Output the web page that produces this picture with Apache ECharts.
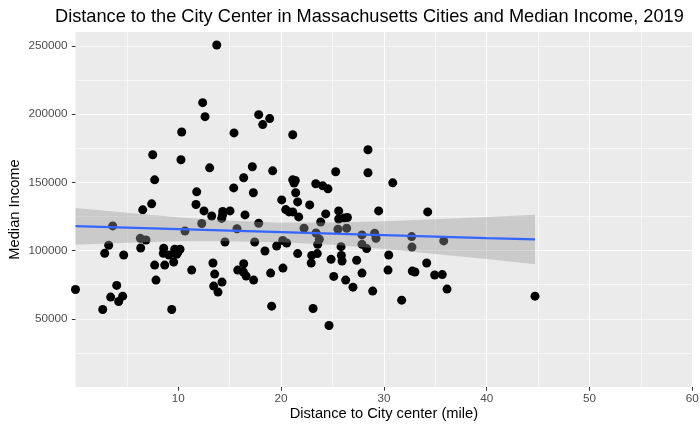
<!DOCTYPE html>
<html><head><meta charset="utf-8">
<script src="https://cdn.jsdelivr.net/npm/echarts@6/dist/echarts.min.js"></script>
<style>html,body{margin:0;padding:0;background:#fff}#c{width:700px;height:432px}</style>
</head><body><div id="c"></div>
<script>
// Distance to city center (miles) and median income per city
const distance = [13.74,12.37,12.6,10.33,15.42,7.51,10.26,13.05,7.7,16.36,11.79,15.39,6.54,7.41,11.72,12.5,13.25,14.22,14.32,14.3,15.03,16.49,12.28,15.71,3.62,0.0,2.65,2.84,3.23,4.01,3.42,4.2,4.59,4.69,6.31,6.86,6.34,7.7,7.83,8.58,8.54,8.68,9.09,9.55,9.36,9.65,9.94,10.17,9.84,10.65,11.3,13.37,13.54,13.44,13.86,14.25,14.54,15.78,16.36,16.33,16.6,17.82,18.89,18.21,21.13,17.2,19.18,17.3,21.13,21.38,21.26,21.42,25.31,28.45,28.45,30.86,23.37,24.05,24.56,20.06,21.61,22.78,20.45,20.77,21.13,21.71,25.6,24.34,25.6,26.12,26.45,23.85,29.49,34.26,17.82,22.23,17.33,17.43,18.43,18.98,19.08,19.57,20.16,20.54,20.18,21.61,23.4,23.72,23.56,23.52,22.98,22.93,23.11,24.66,24.86,25.12,25.53,26.38,25.83,25.86,25.93,26.28,26.99,27.35,27.87,27.87,28.32,27.87,28.91,29.1,29.23,30.47,30.4,31.73,32.7,32.73,32.76,33.02,34.16,34.94,35.68,35.82,36.14,44.7];
const income = [250800,208500,198200,187000,186300,170300,166600,160700,151900,153400,143100,146000,129900,134300,133800,129100,125400,123600,128700,126000,129100,126200,119900,116000,118100,71500,56800,98000,103900,74500,65900,62700,66600,96800,109000,107800,101900,89400,78400,101700,98000,89400,96800,91600,56800,101000,98500,101000,97300,114400,85700,90900,82800,74000,69600,76900,106300,85700,90400,84300,81300,199700,196800,192400,185000,161500,158500,142400,151900,151500,149500,142400,157800,174000,157100,149700,149000,147500,145300,137200,135700,133500,130100,128400,128400,124700,129100,126900,123200,124000,124300,121000,129100,128400,120100,116400,78400,106300,99700,83500,59300,103400,107400,105600,87200,97800,112900,108300,104600,97800,96500,90900,57600,45100,93600,81100,115700,116400,102900,96500,92400,78400,73200,92900,111500,104600,101500,83500,70300,112700,109000,96800,85700,63700,110300,102600,85000,84300,90900,82100,82400,107100,71800,66600];
// Linear fit and its confidence band
const fitX = [0, 5, 10, 15, 20, 25, 30, 35, 40, 44.7];
const fitY = [117900, 116800, 115700, 114600, 113500, 112500, 111400, 110300, 109200, 108300];
const bandLow = [104300, 105800, 106800, 106900, 106200, 104300, 101200, 97600, 93800, 90000];
const bandHigh = [131300, 127700, 124400, 121900, 120500, 120700, 121600, 123000, 124600, 126300];
const xTicks = [10, 20, 30, 40, 50, 60];
const yTicks = [50000, 100000, 150000, 200000, 250000];

const font = '"Liberation Sans", Arial, sans-serif';
const chart = echarts.init(document.getElementById('c'), null, {renderer: 'canvas'});
const points = distance.map((d, i) => [d, income[i]]);
const fitLine = fitX.map((x, i) => [x, fitY[i]]);

const option = {
  animation: false,
  title: {
    text: 'Distance to the City Center in Massachusetts Cities and Median Income, 2019',
    left: 55, top: 7.5, padding: 0,
    textStyle: {fontFamily: font, fontSize: 18.2, fontWeight: 'normal', color: '#000'}
  },
  grid: {left: 75.5, right: 7.7, top: 32, bottom: 45, containLabel: false, outerBoundsMode: 'none',
         show: true, backgroundColor: '#EBEBEB', borderWidth: 0},
  xAxis: {
    type: 'value', min: 0, max: 60, interval: 10,
    name: 'Distance to City center (mile)', nameLocation: 'middle', nameGap: 19, nameMoveOverlap: false,
    nameTextStyle: {fontFamily: font, fontSize: 14.7, color: '#000'},
    axisLine: {show: false},
    axisTick: {show: true, length: 3.7, lineStyle: {color: '#333', width: 1}, customValues: xTicks},
    axisLabel: {customValues: xTicks, fontFamily: font, color: '#4D4D4D', fontSize: 11.7, margin: 6},
    splitLine: {show: true, showMinLine: false, lineStyle: {color: '#FFFFFF', width: 1.1}},
    minorTick: {show: false, splitNumber: 2},
    minorSplitLine: {show: true, lineStyle: {color: '#FFFFFF', width: 0.55}}
  },
  yAxis: [{
    type: 'value', min: 0, max: 260300, interval: 50000,
    name: 'Median Income', nameLocation: 'middle', nameGap: 53, nameMoveOverlap: false,
    nameTextStyle: {fontFamily: font, fontSize: 14.7, color: '#000'},
    axisLine: {show: false},
    axisTick: {show: true, length: 3.7, lineStyle: {color: '#333', width: 1}, customValues: yTicks},
    axisLabel: {customValues: yTicks, fontFamily: font, color: '#4D4D4D', fontSize: 11.7, margin: 8,
                formatter: v => String(v)},
    splitLine: {show: true, showMinLine: false, showMaxLine: false, lineStyle: {color: '#FFFFFF', width: 1.1}}
  }, {
    type: 'value', min: 0, max: 260300, interval: 25000, position: 'left',
    axisLine: {show: false}, axisTick: {show: false}, axisLabel: {show: false},
    splitLine: {show: true, showMinLine: false, showMaxLine: false, lineStyle: {color: '#FFFFFF', width: 0.55}}
  }],
  series: [{
    type: 'scatter', data: points, symbol: 'circle', symbolSize: 9,
    itemStyle: {color: '#000', opacity: 1}, silent: true, z: 2
  }, {
    type: 'custom', data: [[0, 0]], silent: true, z: 3,
    renderItem: function (params, api) {
      const pts = [];
      for (let i = 0; i < fitX.length; i++) pts.push(api.coord([fitX[i], bandHigh[i]]));
      for (let i = fitX.length - 1; i >= 0; i--) pts.push(api.coord([fitX[i], bandLow[i]]));
      return {type: 'polygon', shape: {points: pts}, style: {fill: 'rgba(153,153,153,0.4)'}};
    }
  }, {
    type: 'line', data: fitLine, showSymbol: false, silent: true, z: 4,
    lineStyle: {color: '#3366FF', width: 2.2}
  }]
};
chart.setOption(option);
</script>
</body></html>
